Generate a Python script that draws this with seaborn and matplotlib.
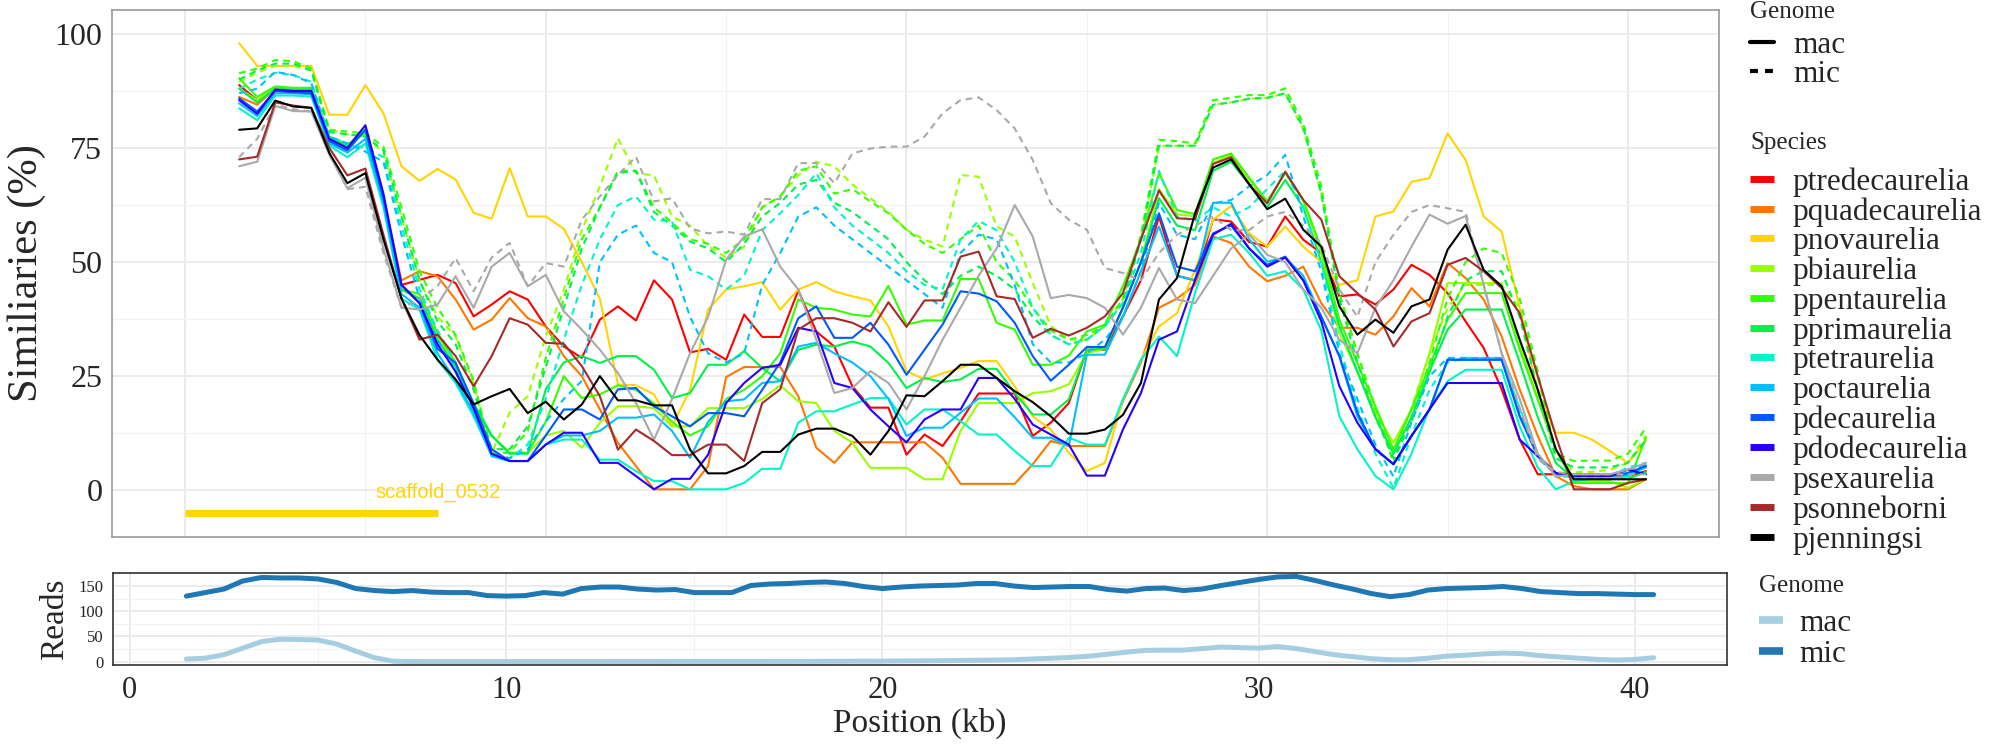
import numpy as np
import pandas as pd
import matplotlib
matplotlib.use("Agg")
import matplotlib.pyplot as plt
import seaborn as sns
from matplotlib.lines import Line2D
from matplotlib.ticker import MultipleLocator, NullFormatter

sns.set_style("white")
plt.rcParams["font.family"] = ["Liberation Serif", "DejaVu Serif"]

# window centres (kb)
positions = np.arange(1.5, 40.75, 0.5)

species = ["ptredecaurelia", "pquadecaurelia", "pnovaurelia", "pbiaurelia", "ppentaurelia",
           "pprimaurelia", "ptetraurelia", "poctaurelia", "pdecaurelia", "pdodecaurelia",
           "psexaurelia", "psonneborni", "pjenningsi"]
species_colors = ["#FF0000", "#FF7700", "#FFD400", "#99FF00", "#33FF00",
                  "#00F04C", "#00F5C8", "#00BFFF", "#0059FF", "#2600FF",
                  "#A9A9A9", "#A52A2A", "#000000"]

# similarity (%) - macronuclear genome
ptredecaurelia_mac = [88.8, 85.5, 88.0, 87.5, 87.5, 77.0, 75.0, 79.5, 64.0, 45.0,
                      46.1, 47.2, 45.4, 38.1, 40.7, 43.6, 41.8, 35.9, 31.5, 29.0,
                      37.4, 40.3, 37.2, 46.0, 41.8, 30.2, 31.0, 28.6, 38.5, 33.6,
                      33.6, 43.8, 34.8, 31.5, 22.8, 18.1, 18.1, 7.8, 12.2, 9.7,
                      15.1, 21.2, 21.2, 21.2, 11.9, 14.8, 19.1, 30.8, 30.8, 38.1,
                      46.0, 60.0, 47.0, 46.0, 59.4, 58.9, 54.4, 53.4, 60.0, 54.9,
                      52.0, 42.5, 42.9, 40.7, 44.0, 49.4, 47.2, 43.2, 37.0, 31.2,
                      22.1, 11.1, 3.5, 3.5, 3.5, 3.5, 3.3, 3.1, 4.2]
pquadecaurelia_mac = [86.2, 84.5, 88.0, 87.5, 87.5, 77.0, 75.0, 79.0, 64.0, 46.0,
                      48.0, 46.9, 41.8, 35.2, 37.4, 42.1, 37.7, 35.9, 29.4, 25.0,
                      17.7, 10.4, 5.3, 0.2, 0.2, 0.2, 5.3, 24.8, 27.0, 27.0,
                      27.0, 20.6, 9.3, 6.0, 10.5, 10.5, 10.5, 10.5, 10.5, 7.1,
                      1.4, 1.4, 1.4, 1.4, 5.7, 10.8, 9.7, 9.7, 9.7, 19.5,
                      28.0, 40.0, 42.0, 45.0, 55.6, 54.2, 49.0, 45.8, 47.0, 49.0,
                      41.0, 35.6, 35.6, 34.1, 38.1, 44.3, 40.3, 49.8, 46.5, 41.8,
                      33.7, 22.1, 11.9, 3.1, 0.9, 0.2, 0.2, 0.2, 2.4]
pnovaurelia_mac = [98.0, 93.0, 93.0, 93.0, 93.0, 82.3, 82.3, 88.8, 82.6, 71.0,
                   67.8, 70.4, 68.1, 60.8, 59.5, 70.6, 60.0, 60.0, 57.3, 50.0,
                   42.0, 23.2, 23.0, 21.0, 14.0, 22.0, 39.6, 44.0, 44.7, 45.6,
                   39.6, 44.0, 45.6, 43.6, 42.5, 41.6, 35.9, 26.1, 24.3, 25.6,
                   26.8, 28.3, 28.3, 22.8, 16.2, 13.3, 8.2, 4.2, 6.0, 19.9,
                   28.6, 35.9, 38.8, 48.3, 59.3, 62.3, 56.3, 53.4, 57.8, 53.4,
                   50.0, 45.0, 46.0, 60.0, 61.1, 67.6, 68.4, 78.2, 72.4, 60.0,
                   56.7, 40.0, 21.3, 12.6, 12.6, 11.1, 8.6, 6.0, 10.8]
pbiaurelia_mac = [88.0, 85.5, 88.2, 88.0, 88.0, 77.0, 75.5, 79.5, 64.0, 44.0,
                  42.0, 34.0, 27.0, 19.0, 12.0, 8.2, 8.2, 12.0, 13.0, 9.3,
                  14.8, 18.4, 18.4, 18.0, 14.0, 14.0, 18.0, 18.0, 18.0, 20.0,
                  23.0, 19.5, 19.1, 13.0, 10.4, 4.9, 4.9, 4.9, 2.4, 2.4,
                  13.0, 19.1, 19.1, 19.1, 21.3, 21.7, 23.2, 30.0, 31.0, 40.0,
                  50.0, 66.0, 60.5, 60.0, 71.7, 73.5, 68.0, 63.3, 69.6, 63.6,
                  52.0, 34.5, 26.0, 17.0, 10.4, 17.7, 30.0, 45.4, 45.4, 45.4,
                  45.4, 32.0, 20.0, 9.0, 2.0, 2.0, 2.0, 0.5, 2.5]
ppentaurelia_mac = [90.3, 86.2, 88.5, 88.2, 88.2, 77.5, 75.8, 78.2, 64.0, 44.0,
                    43.0, 34.5, 28.0, 18.4, 11.9, 8.2, 8.2, 15.0, 25.0, 20.2,
                    21.0, 23.0, 22.0, 19.0, 15.0, 12.0, 14.0, 20.0, 22.0, 25.0,
                    30.0, 41.8, 40.0, 39.6, 38.5, 38.1, 44.8, 36.3, 37.2, 37.2,
                    46.3, 46.3, 36.7, 35.2, 27.5, 27.5, 29.5, 34.8, 36.3, 44.7,
                    55.0, 69.5, 61.4, 60.5, 72.5, 73.8, 68.5, 63.3, 69.6, 63.6,
                    53.0, 37.4, 27.9, 18.4, 8.9, 17.7, 27.2, 37.4, 43.2, 43.2,
                    43.2, 30.8, 19.9, 8.9, 1.6, 1.6, 1.6, 1.5, 11.5]
pprimaurelia_mac = [88.0, 85.0, 88.0, 87.8, 87.8, 77.0, 75.5, 79.0, 64.0, 44.0,
                    42.0, 33.0, 27.0, 19.0, 12.0, 8.0, 8.0, 22.1, 28.0, 29.4,
                    27.9, 29.4, 29.4, 26.4, 20.2, 21.3, 27.5, 27.5, 30.5, 26.8,
                    23.9, 30.8, 31.9, 31.5, 32.6, 31.5, 27.9, 22.4, 24.6, 23.7,
                    24.3, 26.6, 26.6, 21.3, 16.6, 16.6, 19.9, 30.8, 31.0, 40.0,
                    50.0, 64.0, 58.0, 57.0, 70.0, 72.0, 67.0, 62.0, 68.0, 62.0,
                    50.0, 36.0, 26.0, 16.0, 8.0, 16.0, 26.0, 35.2, 39.6, 39.6,
                    39.6, 28.0, 16.0, 6.0, 2.5, 2.5, 2.5, 2.5, 4.0]
ptetraurelia_mac = [83.7, 81.1, 86.5, 86.5, 86.3, 75.5, 73.0, 76.0, 62.0, 42.0,
                    39.6, 28.6, 23.5, 16.2, 7.5, 6.4, 6.4, 10.0, 11.1, 11.1,
                    6.7, 6.7, 4.2, 2.0, 2.0, 0.2, 0.2, 0.2, 1.6, 4.7,
                    4.7, 14.8, 17.3, 17.3, 18.8, 20.2, 20.2, 14.4, 17.7, 17.7,
                    15.1, 12.2, 12.2, 8.6, 5.3, 5.3, 11.5, 10.0, 10.0, 19.9,
                    28.6, 33.7, 29.4, 43.2, 55.0, 56.0, 52.0, 47.0, 48.0, 44.0,
                    35.0, 16.2, 9.0, 3.1, 0.2, 8.0, 18.0, 23.9, 26.4, 26.4,
                    26.4, 14.0, 5.0, 0.2, 2.0, 2.5, 2.5, 3.0, 5.5]
poctaurelia_mac = [84.8, 82.0, 87.0, 87.0, 86.8, 76.0, 74.0, 77.0, 63.0, 43.0,
                   40.0, 30.0, 24.0, 17.0, 7.5, 6.4, 6.4, 10.0, 12.0, 12.0,
                   13.0, 15.9, 15.9, 16.6, 13.0, 7.1, 15.0, 19.5, 19.9, 23.5,
                   23.9, 31.5, 32.3, 30.0, 28.0, 25.0, 20.0, 11.9, 13.7, 13.7,
                   17.0, 20.1, 20.1, 16.0, 11.5, 11.5, 9.7, 29.7, 29.7, 38.0,
                   48.0, 57.8, 47.0, 46.0, 63.0, 63.0, 55.0, 50.1, 51.0, 47.0,
                   38.0, 29.4, 16.2, 9.0, 5.7, 11.9, 17.7, 28.6, 28.6, 28.6,
                   28.6, 16.2, 7.5, 3.8, 3.1, 3.1, 3.1, 3.5, 5.0]
pdecaurelia_mac = [85.9, 83.0, 87.5, 87.2, 87.0, 76.5, 74.5, 79.0, 64.0, 45.0,
                   41.0, 31.0, 27.9, 19.0, 9.0, 6.4, 6.4, 12.0, 17.7, 17.7,
                   15.5, 22.1, 22.4, 18.4, 16.2, 14.0, 16.9, 16.9, 16.2, 22.0,
                   28.0, 37.7, 40.3, 33.4, 33.4, 36.7, 31.9, 25.3, 30.8, 36.3,
                   43.6, 43.1, 41.4, 36.7, 29.4, 24.0, 27.5, 31.4, 31.4, 40.0,
                   50.0, 60.7, 49.0, 48.0, 56.3, 58.0, 53.0, 49.4, 51.2, 46.0,
                   38.0, 29.4, 17.0, 9.0, 5.7, 11.9, 17.7, 28.6, 28.6, 28.6,
                   28.6, 16.2, 7.5, 3.8, 3.1, 3.1, 3.1, 3.8, 5.3]
pdodecaurelia_mac = [85.5, 82.5, 87.8, 87.5, 87.5, 77.0, 75.0, 80.0, 65.0, 45.0,
                     41.0, 32.0, 26.0, 18.0, 8.0, 6.4, 6.4, 10.0, 12.6, 12.6,
                     6.0, 6.0, 3.1, 0.2, 2.5, 2.5, 7.8, 19.1, 23.5, 26.8,
                     27.5, 35.6, 34.8, 23.5, 22.4, 17.7, 14.0, 10.5, 15.5, 17.7,
                     17.7, 24.6, 24.6, 20.0, 14.4, 12.2, 10.0, 3.2, 3.2, 13.3,
                     21.3, 33.0, 34.8, 46.1, 56.0, 58.4, 53.0, 49.0, 51.0, 46.0,
                     37.0, 22.8, 14.8, 9.0, 5.7, 11.9, 17.7, 23.5, 23.5, 23.5,
                     23.5, 11.1, 7.5, 3.8, 3.1, 3.1, 3.1, 4.5, 3.5]
psexaurelia_mac = [71.0, 72.0, 84.2, 83.1, 83.0, 73.5, 66.2, 68.5, 53.0, 40.0,
                   39.6, 40.7, 46.9, 40.0, 49.0, 52.0, 44.7, 47.2, 39.2, 35.2,
                   30.8, 25.7, 19.1, 11.1, 20.0, 30.0, 38.0, 50.5, 55.6, 57.2,
                   49.0, 44.0, 33.0, 21.3, 22.4, 26.1, 23.5, 17.7, 25.0, 33.0,
                   40.0, 47.0, 53.0, 62.5, 55.6, 42.1, 42.8, 42.1, 40.0, 34.1,
                   40.0, 48.7, 41.8, 41.0, 47.0, 53.0, 56.0, 51.6, 50.0, 44.0,
                   40.0, 33.0, 30.0, 40.0, 46.0, 53.4, 60.4, 58.4, 60.1, 45.0,
                   30.0, 20.0, 8.0, 3.0, 3.5, 3.5, 3.5, 4.5, 6.0]
psonneborni_mac = [72.5, 73.1, 85.0, 84.3, 83.8, 75.0, 69.0, 70.5, 56.0, 42.0,
                   33.0, 34.1, 29.4, 22.8, 29.4, 37.7, 36.3, 32.3, 32.1, 27.2,
                   20.6, 8.9, 13.3, 10.8, 7.7, 7.7, 10.0, 10.0, 6.4, 19.1,
                   22.1, 35.2, 37.7, 37.7, 36.7, 34.8, 41.2, 35.8, 41.6, 41.6,
                   51.2, 52.3, 42.5, 41.9, 33.4, 35.4, 33.9, 35.6, 38.1, 43.2,
                   55.0, 65.7, 59.6, 59.4, 71.5, 73.0, 67.0, 62.9, 69.8, 63.6,
                   59.3, 46.9, 43.2, 39.6, 31.5, 37.0, 38.8, 49.4, 50.9, 48.0,
                   44.3, 38.8, 25.0, 11.9, 0.2, 0.2, 0.2, 1.6, 2.4]
pjenningsi_mac = [79.0, 79.3, 85.4, 84.1, 83.8, 73.9, 67.3, 69.5, 55.0, 42.0,
                  34.0, 28.6, 24.3, 18.8, 20.6, 22.2, 16.9, 19.4, 15.5, 18.8,
                  25.0, 19.7, 19.7, 18.6, 18.6, 8.9, 3.7, 3.7, 5.3, 8.4,
                  8.4, 12.2, 13.5, 13.5, 11.9, 7.8, 13.0, 20.8, 20.6, 23.9,
                  27.5, 27.5, 24.6, 21.7, 19.3, 16.2, 12.4, 12.4, 13.3, 16.5,
                  23.5, 41.8, 46.5, 60.7, 70.7, 72.5, 67.1, 61.6, 63.9, 57.1,
                  53.4, 40.3, 34.1, 37.4, 34.5, 40.3, 41.8, 52.7, 58.2, 48.3,
                  44.7, 33.0, 22.1, 9.0, 2.4, 2.4, 2.4, 2.4, 2.4]

# similarity (%) - micronuclear genome
pbiaurelia_mic = [89.5, 91.5, 93.0, 93.0, 92.0, 79.0, 78.0, 77.5, 74.0, 60.0,
                  46.0, 38.0, 33.7, 23.5, 8.2, 17.0, 20.6, 33.7, 43.9, 57.0,
                  66.6, 77.1, 69.5, 69.0, 60.0, 58.0, 53.5, 51.0, 53.4, 62.0,
                  64.4, 69.0, 72.0, 71.0, 67.0, 64.0, 61.0, 57.1, 54.9, 53.4,
                  69.1, 68.7, 57.8, 55.6, 45.4, 36.0, 33.0, 33.0, 36.0, 42.0,
                  55.0, 75.5, 75.5, 75.5, 84.5, 85.0, 85.8, 86.0, 87.0, 79.0,
                  65.0, 43.0, 30.0, 18.0, 8.0, 18.0, 30.0, 40.0, 45.0, 45.0,
                  45.0, 40.0, 25.0, 8.0, 4.0, 4.0, 4.5, 6.0, 12.0]
ppentaurelia_mic = [91.4, 92.4, 94.3, 94.0, 92.5, 79.0, 78.6, 78.2, 75.3, 62.0,
                    48.0, 40.0, 34.0, 24.0, 8.2, 8.2, 13.0, 29.0, 42.0, 55.0,
                    62.0, 70.0, 70.0, 62.0, 58.7, 55.0, 54.0, 52.0, 55.0, 62.0,
                    64.4, 70.0, 71.0, 65.0, 66.0, 63.3, 60.7, 57.1, 54.0, 52.0,
                    55.0, 58.0, 50.0, 46.0, 40.0, 35.0, 33.0, 34.0, 36.0, 42.0,
                    56.0, 76.8, 76.5, 76.0, 85.5, 86.0, 86.6, 86.6, 88.1, 80.4,
                    66.6, 43.2, 30.0, 18.0, 6.0, 16.0, 28.0, 42.0, 50.0, 53.0,
                    52.0, 42.0, 26.0, 8.0, 6.4, 6.5, 6.5, 8.0, 13.7]
pprimaurelia_mic = [90.0, 92.0, 93.5, 93.5, 92.0, 78.5, 78.0, 77.5, 74.5, 60.0,
                    46.0, 37.0, 32.0, 22.0, 9.0, 9.0, 14.0, 27.0, 40.0, 53.0,
                    62.0, 69.5, 70.0, 61.0, 58.0, 54.5, 53.0, 50.0, 54.0, 60.0,
                    63.0, 67.0, 68.0, 63.0, 61.0, 58.0, 55.0, 50.0, 46.0, 43.0,
                    47.0, 49.0, 47.0, 44.0, 38.0, 34.0, 32.0, 33.0, 36.0, 41.0,
                    55.0, 75.5, 75.5, 75.5, 84.5, 85.0, 85.8, 86.0, 87.0, 79.5,
                    65.0, 42.0, 28.0, 16.0, 7.0, 15.0, 26.0, 38.0, 46.0, 48.0,
                    48.0, 38.0, 22.0, 7.0, 5.0, 5.0, 5.0, 6.0, 11.0]
ptetraurelia_mic = [88.0, 90.0, 91.5, 91.0, 89.5, 77.5, 76.0, 75.0, 73.0, 58.0,
                    44.0, 35.0, 28.0, 18.0, 8.0, 7.0, 10.0, 20.0, 33.0, 45.0,
                    55.0, 62.5, 64.4, 59.3, 58.9, 48.3, 46.9, 44.0, 47.0, 57.0,
                    60.7, 64.7, 69.5, 62.0, 58.0, 55.0, 52.0, 48.0, 45.0, 44.0,
                    55.0, 59.0, 57.0, 50.0, 40.0, 34.0, 32.0, 33.0, 36.0, 41.0,
                    52.0, 70.0, 60.0, 59.0, 62.0, 60.0, 62.0, 66.0, 70.0, 62.0,
                    50.0, 32.0, 18.0, 8.0, 0.5, 12.0, 22.0, 28.0, 29.0, 29.0,
                    29.0, 18.0, 8.0, 3.0, 3.0, 3.0, 3.0, 5.0, 6.0]
poctaurelia_mic = [87.0, 88.0, 91.7, 91.0, 89.2, 77.5, 76.0, 74.2, 72.0, 56.0,
                   42.0, 33.0, 26.0, 17.0, 8.0, 7.0, 9.0, 15.0, 20.0, 24.0,
                   50.0, 56.0, 58.0, 52.0, 50.0, 38.0, 30.0, 28.0, 30.0, 45.0,
                   52.0, 60.0, 62.0, 58.0, 55.0, 52.0, 49.0, 46.0, 43.0, 40.0,
                   52.0, 56.0, 55.0, 45.0, 32.0, 28.0, 28.0, 30.0, 33.0, 38.0,
                   48.0, 63.0, 56.0, 55.0, 62.9, 63.6, 66.6, 69.1, 73.5, 60.0,
                   48.0, 30.0, 20.0, 10.0, 3.0, 15.0, 25.0, 29.0, 29.0, 29.0,
                   29.0, 17.0, 7.0, 3.5, 3.5, 3.5, 3.5, 4.5, 5.5]
psexaurelia_mic = [73.0, 77.0, 84.5, 83.5, 83.0, 74.0, 66.0, 66.5, 52.0, 40.0,
                   41.8, 44.7, 50.9, 43.6, 51.0, 54.2, 44.7, 49.8, 49.0, 59.3,
                   64.4, 69.1, 73.1, 63.3, 64.0, 57.4, 56.3, 56.7, 56.0, 63.8,
                   63.8, 71.7, 71.7, 67.3, 73.8, 74.9, 75.3, 75.3, 77.5, 82.6,
                   85.5, 86.1, 83.3, 79.3, 72.4, 62.9, 59.3, 57.1, 48.7, 47.6,
                   46.0, 52.0, 56.0, 58.0, 60.0, 57.0, 57.0, 60.0, 61.0, 58.0,
                   54.0, 44.0, 38.0, 50.0, 56.0, 61.0, 62.5, 61.8, 61.0, 45.0,
                   30.0, 18.0, 7.0, 4.0, 3.5, 3.5, 3.5, 3.5, 3.5]

# read depth
reads_mac = [5.3, 7.0, 14.0, 27.0, 40.0, 44.6, 44.0, 43.0, 35.0, 21.0,
             8.0, 1.0, 0.3, 0.2, 0.2, 0.2, 0.2, 0.2, 0.3, 0.3,
             0.3, 0.3, 0.3, 0.4, 0.4, 0.4, 0.5, 0.5, 0.5, 0.5,
             0.5, 0.6, 0.6, 0.7, 0.8, 0.9, 1.0, 1.2, 1.5, 1.8,
             2.0, 2.5, 3.0, 3.3, 4.0, 5.5, 7.0, 8.5, 11.0, 15.0,
             19.0, 22.5, 23.0, 23.0, 26.0, 29.0, 28.0, 27.0, 30.0, 26.0,
             20.0, 14.0, 10.0, 6.0, 4.0, 4.0, 7.0, 11.0, 13.0, 15.6,
             17.0, 16.0, 12.0, 9.5, 7.0, 4.5, 3.3, 4.6, 8.0]
reads_mic = [130, 137, 144, 160, 167, 166, 166, 164, 157, 145,
             141, 139, 141, 138, 137, 137, 131, 130, 131, 137,
             134, 145, 148, 148, 144, 142, 143, 137, 137, 137,
             151, 154, 155, 157, 158, 155, 149, 145, 148, 150,
             151, 152, 155, 155, 150, 147, 148, 149, 149, 143,
             140, 145, 146, 141, 144, 151, 157, 163, 168, 169,
             161, 152, 144, 135, 129, 133, 142, 145, 146, 147,
             149, 145, 139, 137, 135, 135, 134, 133, 133]

scaffold_name = "scaffold_0532"
scaffold_start, scaffold_end = 0.0, 7.0

mac_series = [ptredecaurelia_mac, pquadecaurelia_mac, pnovaurelia_mac, pbiaurelia_mac,
              ppentaurelia_mac, pprimaurelia_mac, ptetraurelia_mac, poctaurelia_mac,
              pdecaurelia_mac, pdodecaurelia_mac, psexaurelia_mac, psonneborni_mac,
              pjenningsi_mac]
mic_series = {"pbiaurelia": pbiaurelia_mic, "ppentaurelia": ppentaurelia_mic,
              "pprimaurelia": pprimaurelia_mic, "ptetraurelia": ptetraurelia_mic,
              "poctaurelia": poctaurelia_mic, "psexaurelia": psexaurelia_mic}

frames = []
for sp, vals in zip(species, mac_series):
    frames.append(pd.DataFrame({"Position": positions, "Similarity": vals,
                                "Species": sp, "Genome": "mac"}))
    if sp in mic_series:
        frames.append(pd.DataFrame({"Position": positions, "Similarity": mic_series[sp],
                                    "Species": sp, "Genome": "mic"}))
sim = pd.concat(frames, ignore_index=True)

reads = pd.concat([
    pd.DataFrame({"Position": positions, "Reads": reads_mac, "Genome": "mac"}),
    pd.DataFrame({"Position": positions, "Reads": reads_mic, "Genome": "mic"}),
], ignore_index=True)

pal = dict(zip(species, species_colors))
reads_pal = {"mac": "#A6CEE3", "mic": "#1F78B4"}

fig = plt.figure(figsize=(20, 7.5), dpi=100)
ax1 = fig.add_axes([0.056, 0.284, 0.8035, 0.70267])
ax2 = fig.add_axes([0.0565, 0.11333, 0.807, 0.12267])

# top panel: similarity
sns.lineplot(data=sim, x="Position", y="Similarity", hue="Species", style="Genome",
             hue_order=species, style_order=["mac", "mic"], palette=pal,
             dashes={"mac": "", "mic": (3.2, 2.4)}, estimator=None, sort=False,
             linewidth=1.5, legend=False, ax=ax1)
ax1.plot([scaffold_start, scaffold_end], [-5, -5], color="#FFD700", lw=5.2,
         solid_capstyle="butt")
ax1.text(scaffold_end, -0.4, scaffold_name, color="#FFD700", ha="center", va="center",
         fontsize=14.5, family="Liberation Sans")

ax1.set_xlim(-2.025, 42.525)
ax1.set_ylim(-10.25, 105.25)
ax1.xaxis.set_major_locator(MultipleLocator(10))
ax1.xaxis.set_minor_locator(MultipleLocator(5))
ax1.xaxis.set_major_formatter(NullFormatter())
ax1.yaxis.set_major_locator(MultipleLocator(25))
ax1.yaxis.set_minor_locator(MultipleLocator(12.5))
ax1.set_xlabel("")
ax1.set_ylabel("Similiaries (%)", fontsize=30.5)
ax1.yaxis.set_label_coords(-0.041, 0.5)

# bottom panel: reads
sns.lineplot(data=reads, x="Position", y="Reads", hue="Genome", hue_order=["mac", "mic"],
             palette=reads_pal, estimator=None, sort=False, linewidth=3.6, legend=False,
             ax=ax2)
ax2.set_xlim(-0.45, 42.45)
ax2.set_ylim(-6.5, 175.8)
ax2.xaxis.set_major_locator(MultipleLocator(10))
ax2.xaxis.set_minor_locator(MultipleLocator(5))
ax2.yaxis.set_major_locator(MultipleLocator(50))
ax2.yaxis.set_minor_locator(MultipleLocator(25))
ax2.set_xlabel("Position (kb)", fontsize=24)
ax2.set_ylabel("Reads", fontsize=24)
ax2.yaxis.set_label_coords(-0.0266, 0.5)
ax2.xaxis.set_label_coords(0.5, -0.46)

for ax, edge in [(ax1, "#999999"), (ax2, "#333333")]:
    ax.set_axisbelow(True)
    ax.grid(which="major", color="#EBEBEB", lw=1.4)
    ax.grid(which="minor", color="#F2F2F2", lw=0.8)
    ax.tick_params(which="minor", length=0)
    ax.tick_params(which="major", length=5, width=1.1, color="#333333", pad=2)
    for s in ax.spines.values():
        s.set_color(edge)
        s.set_linewidth(1.2)
ax1.tick_params(axis="y", labelsize=23)
ax2.tick_params(axis="x", labelsize=22, pad=3)
ax2.tick_params(axis="y", labelsize=12)

# legends
legend_kw = dict(loc="upper left", frameon=False, fontsize=22.5, title_fontsize=18,
                 handlelength=0.77, borderpad=0, borderaxespad=0, alignment="left")
genome_handles = [Line2D([], [], color="black", lw=3),
                  Line2D([], [], color="black", lw=3, dashes=(1.9, 1.7))]
leg1 = fig.legend(genome_handles, ["mac", "mic"], title="Genome",
                  bbox_to_anchor=(0.875, 0.9985), handletextpad=0.6, labelspacing=0.0,
                  **legend_kw)
leg1._legend_box.sep = 5.5

species_handles = [Line2D([], [], color=c, lw=5, solid_capstyle="butt") for c in species_colors]
leg2 = fig.legend(species_handles, species, title="Species",
                  bbox_to_anchor=(0.875, 0.824), handletextpad=0.6, labelspacing=0.02,
                  **legend_kw)
leg2._legend_box.sep = 9.4

reads_handles = [Line2D([], [], color=reads_pal[g], lw=5.5, solid_capstyle="butt")
                 for g in ["mac", "mic"]]
leg3 = fig.legend(reads_handles, ["mac", "mic"], title="Genome",
                  bbox_to_anchor=(0.8795, 0.2333), handletextpad=0.52, labelspacing=0.065,
                  **legend_kw)
leg3._legend_box.sep = 8.6

fig.savefig("out.png", dpi=100)
